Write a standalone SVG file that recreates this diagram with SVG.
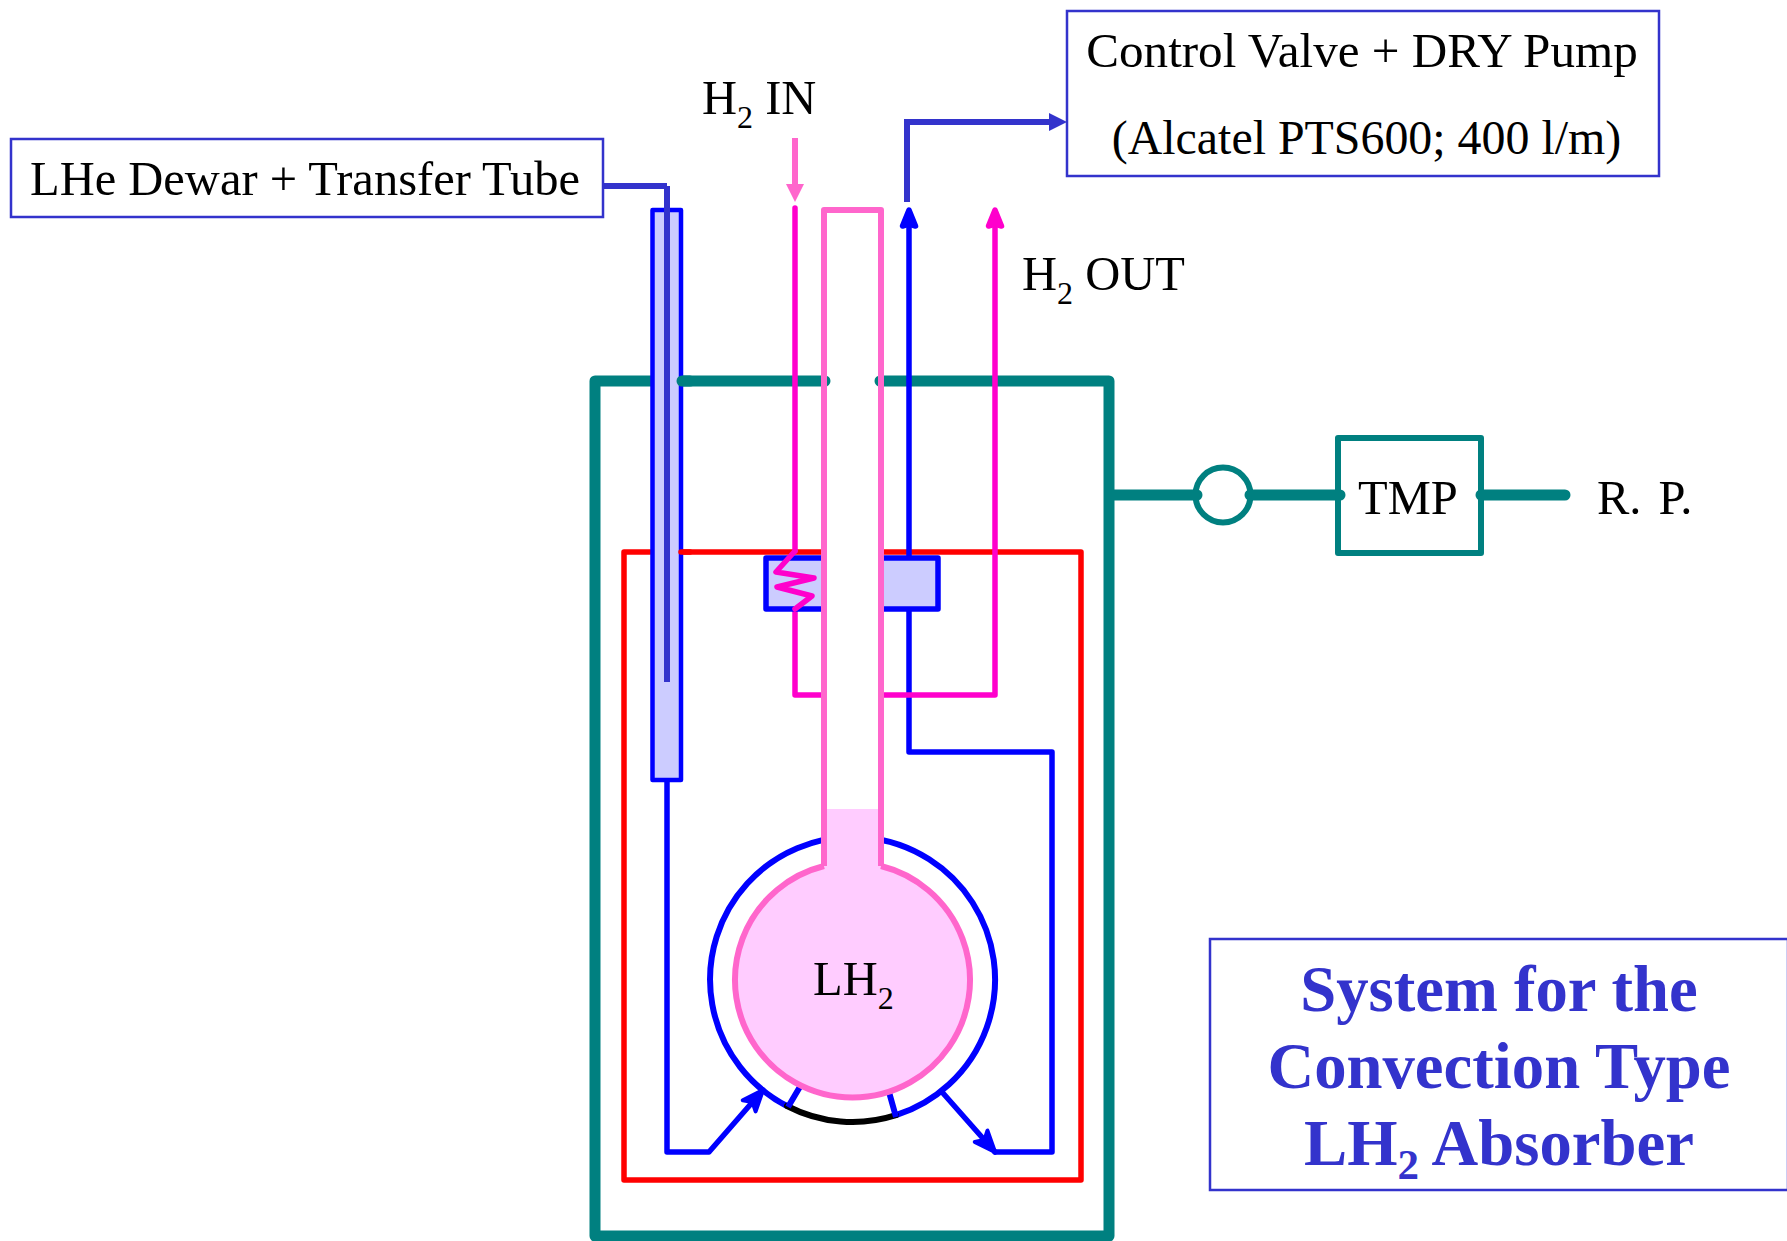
<svg xmlns="http://www.w3.org/2000/svg" width="1787" height="1241" viewBox="0 0 1787 1241">
<style>
.t{font-family:"Liberation Serif","Times New Roman",serif;font-size:48.5px;fill:#000}
.s{font-size:32px}
.b{fill:#fff;stroke:#3333CC;stroke-width:2.5}
.teal{fill:none;stroke:#008080;stroke-linejoin:round;stroke-linecap:round}
.red{fill:none;stroke:#FF0000;stroke-width:5.5;stroke-linecap:round;stroke-linejoin:round}
.blue{fill:none;stroke:#0000FF;stroke-width:5.5;stroke-linecap:round;stroke-linejoin:round}
.dk{fill:none;stroke:#3333CC;stroke-width:6}
.mag{fill:none;stroke:#FF00CC;stroke-width:5.5;stroke-linejoin:round;stroke-linecap:round}
.pk{stroke:#FF66CC;stroke-width:6}
.title{font-family:"Liberation Serif","Times New Roman",serif;font-size:64.7px;font-weight:bold;fill:#3333CC;text-anchor:middle}
</style>
<defs>
<marker id="aO" markerUnits="userSpaceOnUse" markerWidth="32" markerHeight="32" refX="26" refY="16" orient="auto"><path d="M26,16L5,7.5L10,16L5,24.5Z" fill="#0000FF" stroke="#0000FF" stroke-width="4" stroke-linejoin="round"/></marker>
<marker id="aP" markerUnits="userSpaceOnUse" markerWidth="20" markerHeight="20" refX="0" refY="10" orient="auto"><path d="M18,10L0,1L0,19Z" fill="#FF66CC"/></marker>
<marker id="aD" markerUnits="userSpaceOnUse" markerWidth="20" markerHeight="20" refX="0" refY="10" orient="auto"><path d="M18,10L0,1L0,19Z" fill="#3333CC"/></marker>
</defs>

<g id="vacuum-chamber">
<path class="teal" stroke-width="11" d="M655,381H595V1236H1109V381H881"/>
<path class="teal" stroke-width="11" d="M682,381H824"/>
</g>
<g id="radiation-shield">
<path class="red" d="M650,552H624V1180H1081V552H881"/>
<path class="red" d="M681,552H824"/>
</g>

<g id="connectors">
<path class="blue" marker-end="url(#aO)" d="M667,781V1152H709L763,1090"/>
<path class="blue" marker-end="url(#aO)" d="M942,1092L995,1152"/>
<path class="blue" d="M995,1152H1052V752H909V225"/>
<path class="blue" style="fill:#0000FF" d="M902.5,226L909,210L915.5,226L909,224Z"/>
<path class="mag" d="M795,208V551"/>
<path class="mag" d="M795,609V695H995V225"/>
<path class="mag" style="fill:#FF00CC" d="M988.5,226L995,210L1001.5,226L995,224Z"/>
<path class="dk" style="stroke:#FF66CC" marker-end="url(#aP)" d="M795,138V184"/>
<path class="dk" marker-end="url(#aD)" d="M907,202V122H1049"/>
<path class="dk" d="M603,186H667"/>
</g>

<g id="cooling-block">
<rect x="766" y="558" width="172" height="51" fill="#CCCCFF" stroke="#0000FF" stroke-width="5.5" stroke-linejoin="round"/>
</g>
<g id="transfer-tube">
<rect x="652.5" y="210" width="28.5" height="570" fill="#CCCCFF" stroke="#0000FF" stroke-width="4.5" stroke-linejoin="round"/>
<path class="dk" d="M667,186V682"/>
<path class="teal" stroke-width="11" d="M682,381H690"/>
<path class="red" d="M681,552H690"/>
</g>
<g id="outer-jacket">
<path fill="none" stroke="#0000FF" stroke-width="6" d="M787,1106A142.5,142.5 0 1 1 896,1115.2"/>
<path fill="none" stroke="#000000" stroke-width="6" stroke-linecap="round" d="M787,1106A142,142 0 0 0 896,1115.2"/>
<path fill="none" stroke="#0000FF" stroke-width="6" d="M801,1085L788,1107M889,1092L896,1117"/>
</g>
<g id="lh2-vessel">
<path d="M824,210H881V866A117.5,117.5 0 1 1 824,866Z" fill="#FFCCFF" stroke="none"/>
<rect x="824" y="210" width="57" height="599" fill="#fff"/>
<path class="teal" stroke-width="11" d="M824,381H825M881,381H880"/>
<path class="pk" fill="none" stroke-linejoin="round" d="M824,866V210H881V866"/>
<path class="pk" fill="none" d="M824,866A117.5,117.5 0 1 0 881,866"/>
<text class="t" x="813" y="995">LH<tspan class="s" dy="14">2</tspan></text>
</g>
<g id="heat-exchanger-coil">
<path class="mag" d="M795,551L776,572L814,578L777,587L812,596L795,609"/>
</g>

<g id="lhe-dewar">
<rect class="b" x="11" y="139" width="592" height="78"/>
<text class="t" x="30" y="195">LHe Dewar + Transfer Tube</text>
</g>
<g id="pump-box">
<rect class="b" x="1067" y="11" width="592" height="165"/>
<text class="t" x="1362" y="67" text-anchor="middle" style="font-size:49.1px">Control Valve + DRY Pump</text>
<text class="t" x="1366.5" y="154" text-anchor="middle" style="font-size:47.9px">(Alcatel PTS600; 400 l/m)</text>
</g>
<g id="h2-in"><text class="t" x="702" y="114">H<tspan class="s" dy="14">2</tspan><tspan dy="-14"> IN</tspan></text></g>
<g id="h2-out"><text class="t" x="1022" y="290">H<tspan class="s" dy="14">2</tspan><tspan dy="-14"> OUT</tspan></text></g>

<g id="valve">
<path class="teal" stroke-width="11" d="M1114,495H1197"/>
<circle cx="1223" cy="495" r="27.5" fill="none" stroke="#008080" stroke-width="6"/>
<path class="teal" stroke-width="11" d="M1250,495H1340"/>
</g>
<g id="tmp">
<rect x="1338" y="438" width="143" height="115" fill="none" stroke="#008080" stroke-width="6" stroke-linejoin="round"/>
<text class="t" x="1358" y="514">TMP</text>
<path class="teal" stroke-width="11" d="M1481,495H1565"/>
</g>
<g id="rp"><text class="t" x="1597" y="514" style="word-spacing:5px">R. P.</text></g>

<g id="title">
<rect class="b" x="1210" y="939" width="578" height="251"/>
<text class="title" x="1499" y="1011">System for the</text>
<text class="title" x="1499" y="1088">Convection Type</text>
<text class="title" x="1499" y="1165">LH<tspan style="font-size:43px" dy="14">2</tspan><tspan dy="-14"> Absorber</tspan></text>
</g>
</svg>
